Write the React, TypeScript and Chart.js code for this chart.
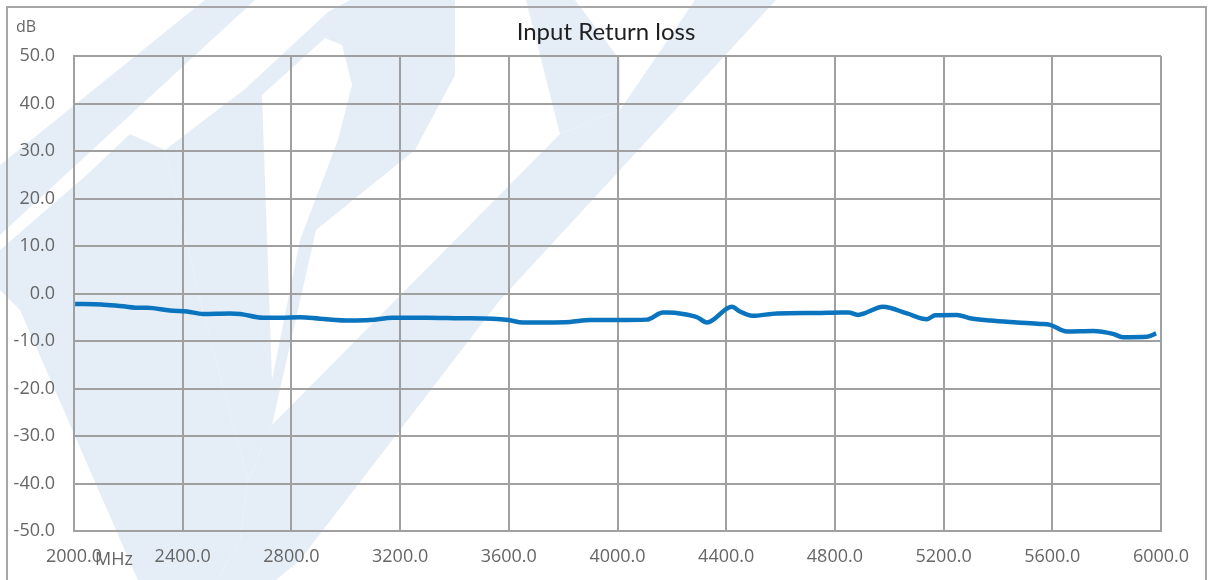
import React, { useEffect, useRef } from "react";
import { Chart, registerables } from "chart.js";

Chart.register(...registerables);

// Frequency (MHz) of sampled points
const freqMHz = [
  2004, 2100, 2180, 2243, 2270, 2353, 2416, 2475, 2574, 2611, 2695, 2760, 2832, 2905,
  3016, 3089, 3174, 3299, 3420, 3542, 3600, 3652, 3740, 3825, 3899, 4000, 4108, 4120,
  4167, 4182, 4241, 4293, 4329, 4421, 4451, 4495, 4587, 4734, 4819, 4850, 4885, 4977,
  5065, 5139, 5168, 5249, 5297, 5371, 5470, 5555, 5592, 5654, 5750, 5823, 5860, 5949, 5982,
];
// Input return loss (dB)
const returnLossDb = [
  -2.2, -2.3, -2.7, -3.0, -3.0, -3.6, -3.8, -4.3, -4.2, -4.3, -5.1, -5.1, -5.0, -5.3,
  -5.7, -5.6, -5.1, -5.1, -5.2, -5.3, -5.6, -6.1, -6.1, -6.0, -5.6, -5.6, -5.5, -5.3,
  -4.0, -4.0, -4.3, -5.0, -6.1, -2.8, -3.8, -4.7, -4.2, -4.1, -4.0, -4.0, -4.5, -2.8,
  -4.2, -5.4, -4.6, -4.5, -5.2, -5.7, -6.1, -6.4, -6.6, -8.0, -7.9, -8.5, -9.2, -9.1, -8.4,
];
const xTickStep = 400;
const yTickStep = 10;
const titleText = "Input Return loss";
const yUnit = "dB";
const xUnit = "MHz";

// decorative watermark shapes (page pixels)
const watermarkLight: number[][][] = [
  [[205, 0], [255, 0], [0, 235], [0, 165]],
  [[0, 250], [90, 172], [130, 134], [165, 150], [200, 300], [248, 480], [240, 540], [215, 585], [140, 585], [20, 310], [0, 290]],
  [[248, 480], [272, 425], [560, 134], [620, 110], [620, 170], [500, 300], [300, 560], [270, 585], [215, 585], [240, 540]],
  [[245, 89], [328, 12], [350, 0], [455, 0], [455, 75], [415, 150], [316, 230], [272, 425], [248, 480], [200, 300], [165, 150]],
  [[526, 0], [575, 0], [620, 60], [620, 110], [560, 134]],
  [[695, 0], [776, 0], [620, 170], [620, 110]],
];
const watermarkHoles: number[][][] = [
  [[262, 95], [325, 38], [342, 45], [352, 85], [338, 140], [300, 240], [272, 380]],
];

export default function App() {
  const ref = useRef<HTMLCanvasElement | null>(null);
  useEffect(() => {
    if (!ref.current) return;
    const bgPlugin = {
      id: "bg",
      beforeDraw(chart: any) {
        const ctx = chart.ctx;
        ctx.save();
        ctx.fillStyle = "#ffffff";
        ctx.fillRect(0, 0, chart.width, chart.height);
        ctx.fillStyle = "#e5eef7";
        for (const poly of watermarkLight) {
          ctx.beginPath();
          poly.forEach((p, i) => (i ? ctx.lineTo(p[0], p[1]) : ctx.moveTo(p[0], p[1])));
          ctx.closePath();
          ctx.fill();
        }
        ctx.fillStyle = "#ffffff";
        for (const poly of watermarkHoles) {
          ctx.beginPath();
          poly.forEach((p, i) => (i ? ctx.lineTo(p[0], p[1]) : ctx.moveTo(p[0], p[1])));
          ctx.closePath();
          ctx.fill();
        }
        ctx.strokeStyle = "#a6a6a6";
        ctx.lineWidth = 2;
        ctx.strokeRect(7, 7, 1199, 640);
        ctx.restore();
      },
      afterDraw(chart: any) {
        const ctx = chart.ctx;
        ctx.save();
        ctx.fillStyle = "#666666";
        ctx.font = "16px 'Open Sans'";
        ctx.textAlign = "left";
        ctx.textBaseline = "alphabetic";
        ctx.fillText(yUnit, 16, 32);
        ctx.font = "18px 'Open Sans'";
        ctx.fillText(xUnit, 95, 565);
        ctx.restore();
      },
    };
    const chart = new Chart(ref.current, {
      type: "line",
      data: {
        datasets: [
          {
            data: freqMHz.map((f, i) => ({ x: f, y: returnLossDb[i] })),
            borderColor: "#0b74bf",
            borderWidth: 4.5,
            pointRadius: 0,
            tension: 0.4,
            cubicInterpolationMode: "monotone",
            fill: false,
          },
        ],
      },
      options: {
        responsive: false,
        animation: false,
        layout: { padding: { left: 0, right: 0, top: 0, bottom: 0 } },
        plugins: {
          legend: { display: false },
          tooltip: { enabled: false },
          title: {
            display: true,
            text: titleText,
            color: "#1f1f1f",
            font: { family: "Lato", size: 24, weight: "normal", lineHeight: 1.2 },
            padding: { top: 18, bottom: 9.2 },
          },
        },
        scales: {
          x: {
            type: "linear",
            min: 2000,
            max: 6000,
            afterFit: (s: any) => {
              s.height = 49;
            },
            ticks: {
              stepSize: xTickStep,
              callback: (v: any) => Number(v).toFixed(1),
              color: "#666666",
              font: { family: "Open Sans", size: 18 },
              padding: 15,
              maxRotation: 0,
              autoSkip: false,
            },
            grid: { color: "#a0a0a0", lineWidth: 2, drawTicks: false },
            border: { display: true, color: "#a0a0a0", width: 2 },
          },
          y: {
            min: -50,
            max: 50,
            afterFit: (s: any) => {
              s.width = 74;
            },
            ticks: {
              stepSize: yTickStep,
              callback: (v: any) => Number(v).toFixed(1),
              color: "#666666",
              font: { family: "Open Sans", size: 18 },
              padding: 19,
            },
            grid: { color: "#a0a0a0", lineWidth: 2, drawTicks: false },
            border: { display: true, color: "#a0a0a0", width: 2 },
          },
          yRight: {
            type: "linear",
            position: "right",
            min: -50,
            max: 50,
            afterFit: (s: any) => {
              s.width = 51;
            },
            ticks: { display: false },
            grid: { display: false, drawTicks: false },
            border: { display: false },
          },
        },
      },
      plugins: [bgPlugin],
    });
    return () => chart.destroy();
  }, []);
  return (
    <canvas
      ref={ref}
      width={1212}
      height={580}
      style={{ position: "absolute", left: 0, top: 0, width: 1212, height: 580 }}
    />
  );
}
